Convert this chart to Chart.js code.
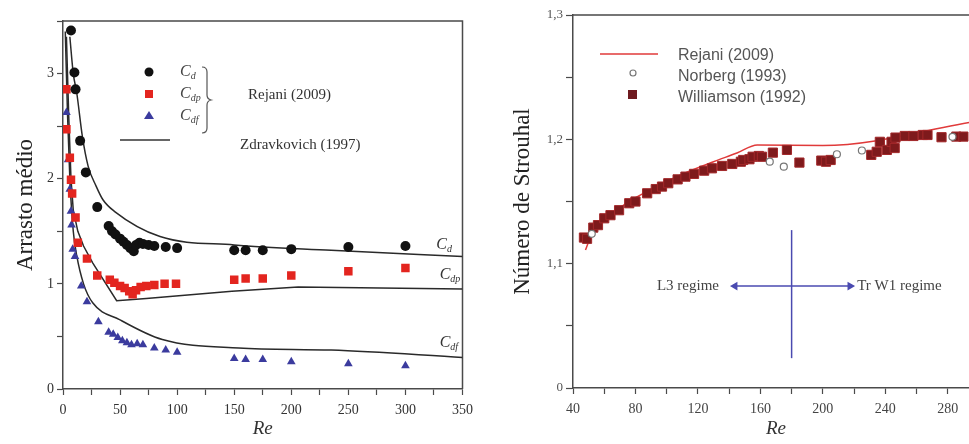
<!DOCTYPE html>
<html>
<head>
<meta charset="utf-8">
<script src="https://cdn.jsdelivr.net/npm/chart.js@4/dist/chart.umd.min.js"></script>
<style>
  html, body { margin: 0; padding: 0; background: #fff; overflow: hidden; width: 969px; height: 444px; }
  #dragChart { position: absolute; left: 0; top: 0; }
  #stChart { position: absolute; left: 480px; top: 0; }
</style>
</head>
<body>
<canvas id="dragChart" width="480" height="444"></canvas>
<canvas id="stChart" width="512" height="444"></canvas>
<script>
// ---- left panel: mean drag vs Re (Rejani 2009 points, Zdravkovich 1997 curves)
const cdRe  = [7, 10, 11, 15, 20, 30, 40, 43, 46, 50, 53, 56, 59, 62, 64, 67, 70, 75, 80, 90, 100, 150, 160, 175, 200, 250, 300];
const cdVal = [3.41, 3.01, 2.85, 2.36, 2.06, 1.73, 1.55, 1.50, 1.47, 1.43, 1.40, 1.37, 1.34, 1.31, 1.37, 1.39, 1.38, 1.37, 1.36, 1.35, 1.34, 1.32, 1.32, 1.32, 1.33, 1.35, 1.36];

const cdpRe  = [3, 3, 6, 7, 8, 11, 13, 21, 30, 41, 45, 50, 54, 58, 61, 64, 68, 73, 80, 89, 99, 150, 160, 175, 200, 250, 300];
const cdpVal = [2.85, 2.47, 2.2, 1.99, 1.86, 1.63, 1.39, 1.24, 1.08, 1.04, 1.01, 0.98, 0.96, 0.93, 0.90, 0.94, 0.97, 0.98, 0.99, 1.00, 1.00, 1.04, 1.05, 1.05, 1.08, 1.12, 1.15];

const cdfRe  = [3, 4.5, 6, 7, 7.5, 8.5, 10.5, 16, 21, 31, 40, 44, 48, 52, 56, 60, 65, 70, 80, 90, 100, 150, 160, 175, 200, 250, 300];
const cdfVal = [2.63, 2.18, 1.9, 1.69, 1.56, 1.33, 1.26, 0.98, 0.83, 0.64, 0.54, 0.52, 0.49, 0.46, 0.44, 0.42, 0.43, 0.42, 0.39, 0.37, 0.35, 0.29, 0.28, 0.28, 0.26, 0.24, 0.22];

const zdCdRe   = [6, 9, 12, 17, 22, 29, 35, 45, 85, 150, 235, 350];
const zdCdVal  = [3.35, 3.0, 2.82, 2.4, 2.12, 1.93, 1.8, 1.69, 1.45, 1.37, 1.32, 1.26];
const zdCdpRe  = [3, 5, 7, 9, 13, 18, 26, 47, 73, 148, 206, 350];
const zdCdpVal = [3.35, 2.6, 2.0, 1.7, 1.5, 1.36, 1.2, 0.84, 0.86, 0.93, 0.97, 0.95];
const zdCdfRe  = [2, 4, 6, 9, 12, 18, 26, 49.5, 87, 154, 235, 350];
const zdCdfVal = [3.4, 2.6, 2.0, 1.5, 1.27, 1.0, 0.82, 0.66, 0.47, 0.39, 0.37, 0.30];

// curve end labels: [Re, value, subscript]
const curveLabels = [[327, 1.37, 'd'], [330, 1.085, 'dp'], [330, 0.44, 'df']];

// ---- right panel: Strouhal number vs Re
const rejaniRe = [48, 53, 60, 70, 80, 95, 110, 130, 145, 158, 200, 300];
const rejaniSt = [1.111, 1.127, 1.136, 1.145, 1.153, 1.163, 1.172, 1.182, 1.189, 1.1955, 1.195, 1.215];

const norbergRe = [52, 166, 175, 209, 225, 283];
const norbergSt = [1.124, 1.182, 1.178, 1.188, 1.191, 1.202];

const williamsonRe = [47, 49, 53, 56, 60, 64, 69.5, 76, 80, 87.5, 93, 97, 101, 107, 112, 117.5, 124, 129,
  135.5, 142, 147.5, 149, 153, 155, 159, 161, 168, 177, 185, 199, 202, 205, 231, 234.5, 236.5, 241,
  244, 246, 246.5, 252.5, 258, 264, 267, 276, 285.5, 290];
const williamsonSt = [1.121, 1.120, 1.129, 1.131, 1.1365, 1.139, 1.143, 1.1486, 1.150, 1.1566, 1.160, 1.162, 1.1647, 1.1678, 1.170, 1.1722, 1.1748, 1.1767,
  1.1786, 1.1802, 1.182, 1.1834, 1.184, 1.186, 1.1866, 1.186, 1.1893, 1.1915, 1.1813, 1.1829, 1.182, 1.1834, 1.1875, 1.19, 1.198, 1.1915,
  1.198, 1.193, 1.2014, 1.2027, 1.2027, 1.2035, 1.2035, 1.2017, 1.2022, 1.2022];

const stTickValues = [1.0, 1.1, 1.2, 1.3];
const stTickLabels = ['0', '1,1', '1,2', '1,3'];

// regime marker
const regimeRe = 180;
const regimeSpan = [1.024, 1.127];
const arrowRe = [143.7, 217.4];
const arrowSt = 1.082;

const SERIF = '"Liberation Serif", "Times New Roman", serif';
const SANS = '"Liberation Sans", Arial, sans-serif';
const AXIS = '#4a4a4a';

function pts(xs, ys) { return xs.map((x, i) => ({ x: x, y: ys[i] })); }

// top + right frame lines
const framePlugin = {
  id: 'frame',
  beforeDatasetsDraw(chart) {
    const a = chart.chartArea, ctx = chart.ctx;
    ctx.save();
    ctx.strokeStyle = AXIS;
    ctx.lineWidth = 1.5;
    ctx.beginPath();
    ctx.moveTo(a.left, a.top);
    ctx.lineTo(a.right, a.top);
    ctx.lineTo(a.right, a.bottom);
    ctx.stroke();
    ctx.restore();
  }
};

function drawC(ctx, x, y, sub, size) {
  ctx.font = 'italic ' + size + 'px ' + SERIF;
  ctx.textAlign = 'left';
  ctx.textBaseline = 'middle';
  ctx.fillText('C', x, y);
  const w = ctx.measureText('C').width;
  ctx.font = 'italic ' + Math.round(size * 0.62) + 'px ' + SERIF;
  ctx.fillText(sub, x + w, y + size * 0.3);
}

const dragNotes = {
  id: 'dragNotes',
  afterDatasetsDraw(chart) {
    const ctx = chart.ctx, xs = chart.scales.x, ys = chart.scales.y;
    ctx.save();
    ctx.fillStyle = '#333';
    curveLabels.forEach(l => drawC(ctx, xs.getPixelForValue(l[0]), ys.getPixelForValue(l[1]), l[2], 16));

    // legend
    ctx.fillStyle = '#111';
    ctx.beginPath(); ctx.arc(149, 72, 4.5, 0, Math.PI * 2); ctx.fill();
    ctx.fillStyle = '#e3251f';
    ctx.fillRect(145, 90, 8, 8);
    ctx.fillStyle = '#3b3b9e';
    ctx.beginPath(); ctx.moveTo(149, 111); ctx.lineTo(154, 119); ctx.lineTo(144, 119); ctx.closePath(); ctx.fill();
    ctx.fillStyle = '#444';
    drawC(ctx, 180, 72, 'd', 16);
    drawC(ctx, 180, 94, 'dp', 16);
    drawC(ctx, 180, 116, 'df', 16);
    ctx.strokeStyle = '#555';
    ctx.lineWidth = 1.2;
    ctx.beginPath();
    ctx.moveTo(202, 67);
    ctx.quadraticCurveTo(207, 67, 207, 72);
    ctx.lineTo(207, 95);
    ctx.quadraticCurveTo(207, 99, 211, 100);
    ctx.quadraticCurveTo(207, 101, 207, 105);
    ctx.lineTo(207, 128);
    ctx.quadraticCurveTo(207, 133, 202, 133);
    ctx.stroke();
    ctx.font = '15px ' + SERIF;
    ctx.fillStyle = '#333';
    ctx.textBaseline = 'middle';
    ctx.fillText('Rejani (2009)', 248, 95);
    ctx.strokeStyle = '#333';
    ctx.lineWidth = 1.5;
    ctx.beginPath(); ctx.moveTo(120, 140); ctx.lineTo(170, 140); ctx.stroke();
    ctx.fillText('Zdravkovich (1997)', 240, 145);
    ctx.restore();
  }
};

new Chart(document.getElementById('dragChart'), {
  type: 'scatter',
  data: {
    datasets: [
      { label: 'Cd', data: pts(cdRe, cdVal), pointStyle: 'circle', pointRadius: 5,
        backgroundColor: '#111', borderColor: '#111', borderWidth: 0 },
      { label: 'Cdp', data: pts(cdpRe, cdpVal), pointStyle: 'rect', pointRadius: 6,
        backgroundColor: '#e3251f', borderColor: '#e3251f', borderWidth: 0 },
      { label: 'Cdf', data: pts(cdfRe, cdfVal), pointStyle: 'triangle', pointRadius: 5,
        backgroundColor: '#3b3b9e', borderColor: '#3b3b9e', borderWidth: 0 },
      { label: 'Zdravkovich Cd', data: pts(zdCdRe, zdCdVal), showLine: true, pointRadius: 0,
        borderColor: '#2a2a2a', borderWidth: 1.5, cubicInterpolationMode: 'monotone' },
      { label: 'Zdravkovich Cdp', data: pts(zdCdpRe, zdCdpVal), showLine: true, pointRadius: 0,
        borderColor: '#2a2a2a', borderWidth: 1.5, tension: 0 },
      { label: 'Zdravkovich Cdf', data: pts(zdCdfRe, zdCdfVal), showLine: true, pointRadius: 0,
        borderColor: '#2a2a2a', borderWidth: 1.5, cubicInterpolationMode: 'monotone' }
    ]
  },
  options: {
    responsive: false,
    animation: false,
    devicePixelRatio: 1,
    layout: { padding: { top: 21, right: 14, left: 0, bottom: 0 } },
    plugins: { legend: { display: false }, tooltip: { enabled: false } },
    scales: {
      x: {
        type: 'linear', min: 0, max: 350,
        afterFit: s => { s.height = 55; },
        ticks: {
          stepSize: 25, autoSkip: false, maxRotation: 0, padding: 7,
          color: '#333', font: { family: SERIF, size: 14 },
          callback: v => (v % 50 === 0 ? v : '')
        },
        grid: { drawOnChartArea: false, tickLength: 6, tickColor: AXIS, tickWidth: 1.2 },
        border: { color: AXIS, width: 1.5 },
        title: { display: true, text: 'Re', color: '#333', padding: { top: 8 },
          font: { family: SERIF, size: 19, style: 'italic' } }
      },
      y: {
        min: 0, max: 3.5,
        afterFit: s => { s.width = 63; },
        ticks: {
          stepSize: 0.5, autoSkip: false, padding: 3,
          color: '#333', font: { family: SERIF, size: 14 },
          callback: v => (Number.isInteger(v) && v <= 3 ? v : '')
        },
        grid: { drawOnChartArea: false, tickLength: 6, tickColor: AXIS, tickWidth: 1.2 },
        border: { color: AXIS, width: 1.5 },
        title: { display: true, text: 'Arrasto médio', color: '#222', padding: { top: 12 },
          font: { family: SERIF, size: 23 } }
      }
    }
  },
  plugins: [framePlugin, dragNotes]
});

const stNotes = {
  id: 'stNotes',
  afterDatasetsDraw(chart) {
    const ctx = chart.ctx, xs = chart.scales.x, ys = chart.scales.y;
    ctx.save();
    ctx.font = '15px ' + SERIF;
    ctx.fillStyle = '#444';
    ctx.textBaseline = 'middle';
    ctx.textAlign = 'right';
    ctx.fillText('L3 regime', xs.getPixelForValue(133.5), ys.getPixelForValue(arrowSt));
    ctx.textAlign = 'left';
    ctx.fillText('Tr W1 regime', xs.getPixelForValue(222), ys.getPixelForValue(arrowSt));

    // legend
    ctx.strokeStyle = '#e03a3a';
    ctx.lineWidth = 1.5;
    ctx.beginPath(); ctx.moveTo(120, 54); ctx.lineTo(178, 54); ctx.stroke();
    ctx.strokeStyle = '#777';
    ctx.lineWidth = 1.2;
    ctx.fillStyle = '#fff';
    ctx.beginPath(); ctx.arc(153, 73, 3, 0, Math.PI * 2); ctx.fill(); ctx.stroke();
    ctx.fillStyle = '#6e1a1f';
    ctx.fillRect(148, 90, 9, 9);
    ctx.font = '16px ' + SANS;
    ctx.fillStyle = '#555';
    ctx.textAlign = 'left';
    ctx.fillText('Rejani (2009)', 198, 56);
    ctx.fillText('Norberg (1993)', 198, 77);
    ctx.fillText('Williamson (1992)', 198, 98);
    ctx.restore();
  }
};

new Chart(document.getElementById('stChart'), {
  type: 'scatter',
  data: {
    datasets: [
      { label: 'Norberg (1993)', data: pts(norbergRe, norbergSt), pointStyle: 'circle', pointRadius: 3.5,
        backgroundColor: '#fff', borderColor: '#777', borderWidth: 1.2 },
      { label: 'Williamson (1992)', data: pts(williamsonRe, williamsonSt), pointStyle: 'rect', pointRadius: 6.5,
        backgroundColor: '#7e1a1c', borderColor: '#a3282a', borderWidth: 1 },
      { label: 'Rejani (2009)', data: pts(rejaniRe, rejaniSt), showLine: true, pointRadius: 0,
        borderColor: '#e03a3a', borderWidth: 1.5, cubicInterpolationMode: 'monotone' },
      { label: 'regime', data: pts([regimeRe, regimeRe], regimeSpan), showLine: true, pointRadius: 0,
        borderColor: '#4a4ab0', borderWidth: 1.5 },
      { label: 'arrow', data: pts(arrowRe, [arrowSt, arrowSt]), showLine: true,
        pointStyle: 'triangle', pointRadius: 3.5, pointRotation: [-90, 90],
        backgroundColor: '#4a4ab0', borderColor: '#4a4ab0', borderWidth: 1.5 }
    ]
  },
  options: {
    responsive: false,
    animation: false,
    devicePixelRatio: 1,
    layout: { padding: { top: 15, right: 13, left: 0, bottom: 0 } },
    plugins: { legend: { display: false }, tooltip: { enabled: false } },
    scales: {
      x: {
        type: 'linear', min: 40, max: 300,
        afterFit: s => { s.height = 56; },
        ticks: {
          stepSize: 20, autoSkip: false, maxRotation: 0, padding: 7,
          color: '#444', font: { family: SERIF, size: 14 },
          callback: v => (v % 40 === 0 && v <= 280 ? v : '')
        },
        grid: { drawOnChartArea: false, tickLength: 6, tickColor: AXIS, tickWidth: 1.2 },
        border: { color: AXIS, width: 1.5 },
        title: { display: true, text: 'Re', color: '#333', padding: { top: 8 },
          font: { family: SERIF, size: 19, style: 'italic' } }
      },
      y: {
        min: 1.0, max: 1.3,
        afterFit: s => { s.width = 93; },
        ticks: {
          stepSize: 0.05, autoSkip: false, padding: 3,
          color: '#555', font: { family: SERIF, size: 13 },
          callback: v => {
            const i = stTickValues.findIndex(t => Math.abs(t - v) < 1e-6);
            return i >= 0 ? stTickLabels[i] : '';
          }
        },
        grid: { drawOnChartArea: false, tickLength: 7, tickColor: AXIS, tickWidth: 1.2 },
        border: { color: AXIS, width: 1.5 },
        title: { display: true, text: 'Número de Strouhal', color: '#222', padding: { top: 29 },
          font: { family: SERIF, size: 23 } }
      }
    }
  },
  plugins: [framePlugin, stNotes]
});
</script>
</body>
</html>
